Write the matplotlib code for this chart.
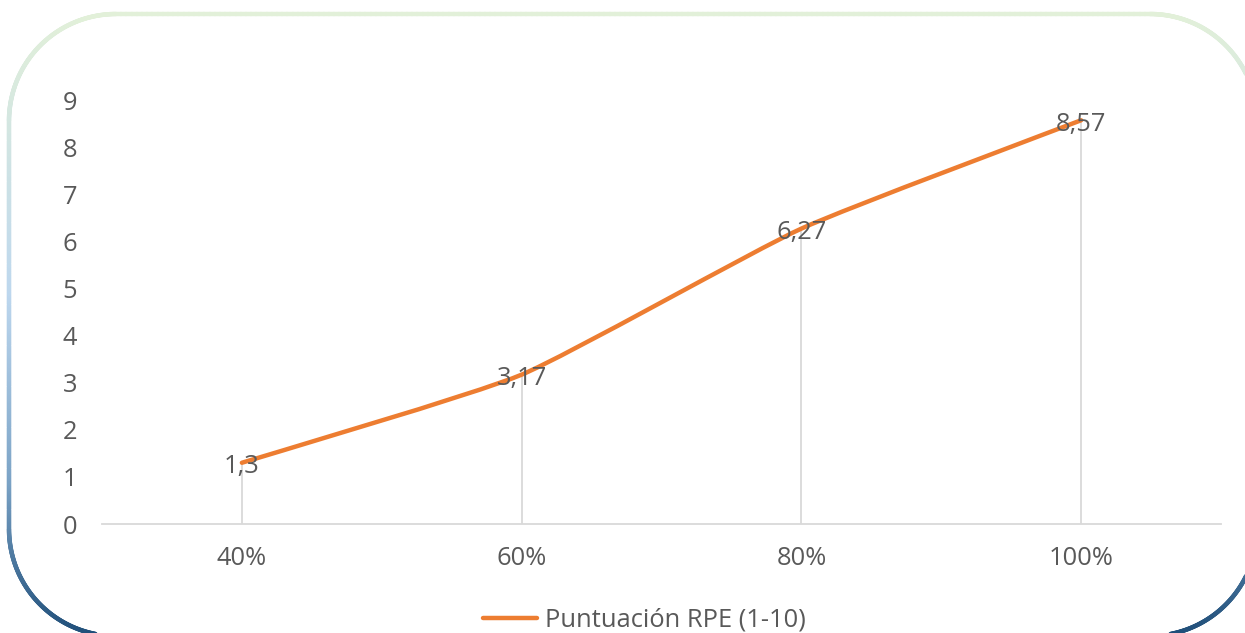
import numpy as np
import matplotlib
matplotlib.use("Agg")
import matplotlib.pyplot as plt
from matplotlib.path import Path
from matplotlib.patches import PathPatch
from matplotlib.collections import LineCollection
from matplotlib.lines import Line2D
from matplotlib.colors import LinearSegmentedColormap

plt.rcParams['font.family'] = ['Open Sans', 'DejaVu Sans']

# Data
categories = ["40%", "60%", "80%", "100%"]
rpe_scores = [1.3, 3.17, 6.27, 8.57]
value_labels = ["1,3", "3,17", "6,27", "8,57"]
y_ticks = [0, 1, 2, 3, 4, 5, 6, 7, 8, 9]
series_name = "Puntuación RPE (1-10)"

W, H = 1245, 633
fig = plt.figure(figsize=(W / 100, H / 100), dpi=100)
fig.patch.set_facecolor("white")

# Rounded frame with a vertical colour gradient
frame_ax = fig.add_axes([0, 0, 1, 1], zorder=0)
frame_ax.set_xlim(0, W)
frame_ax.set_ylim(H, 0)
frame_ax.axis("off")

x0, y0, x1, y1, r = 9, 14, 1257, 636, 107


def rounded_rect_points(x0, y0, x1, y1, r, n=200):
    pts = []
    def arc(cx, cy, a0, a1):
        t = np.linspace(np.radians(a0), np.radians(a1), n)
        return np.column_stack([cx + r * np.cos(t), cy + r * np.sin(t)])
    pts.append(np.column_stack([np.linspace(x0 + r, x1 - r, n), np.full(n, y0)]))
    pts.append(arc(x1 - r, y0 + r, -90, 0))
    pts.append(np.column_stack([np.full(n, x1), np.linspace(y0 + r, y1 - r, n)]))
    pts.append(arc(x1 - r, y1 - r, 0, 90))
    pts.append(np.column_stack([np.linspace(x1 - r, x0 + r, n), np.full(n, y1)]))
    pts.append(arc(x0 + r, y1 - r, 90, 180))
    pts.append(np.column_stack([np.full(n, x0), np.linspace(y1 - r, y0 + r, n)]))
    pts.append(arc(x0 + r, y0 + r, 180, 270))
    return np.vstack(pts)


pts = rounded_rect_points(x0, y0, x1, y1, r)
segs = np.stack([pts[:-1], pts[1:]], axis=1)
frame_cmap = LinearSegmentedColormap.from_list(
    "frame", [(0.0, "#e2f0d9"), (0.45, "#bdd7ee"), (0.75, "#7ba3c6"), (1.0, "#1f4e79")])
ymid = (segs[:, 0, 1] + segs[:, 1, 1]) / 2
colors = frame_cmap((ymid - y0) / (y1 - y0))
frame_ax.add_collection(LineCollection(segs, colors=colors, linewidths=3.2,
                                       capstyle="round"))

# Main chart
ax = fig.add_axes([102 / W, (H - 524) / H, (1221 - 102) / W, (524 - 100) / H], zorder=1)
ax.patch.set_alpha(0)
x = np.arange(len(categories))
ax.set_xlim(-0.5, len(categories) - 0.5)
ax.set_ylim(0, 9)

text_color = "#595959"
fs = 18.4

# Drop lines
ax.vlines(x, 0, rpe_scores, colors="#d9d9d9", linewidth=1.3, zorder=1)

# Lightly smoothed line through the points (Bezier segments)
tension = 1 / 12
px = np.array(x, dtype=float)
py = np.array(rpe_scores, dtype=float)
verts = [(px[0], py[0])]
codes = [Path.MOVETO]
n = len(px)
for i in range(n - 1):
    p0 = (px[max(i - 1, 0)], py[max(i - 1, 0)])
    p1 = (px[i], py[i])
    p2 = (px[i + 1], py[i + 1])
    p3 = (px[min(i + 2, n - 1)], py[min(i + 2, n - 1)])
    c1 = (p1[0] + (p2[0] - p0[0]) * tension, p1[1] + (p2[1] - p0[1]) * tension)
    c2 = (p2[0] - (p3[0] - p1[0]) * tension, p2[1] - (p3[1] - p1[1]) * tension)
    verts += [c1, c2, p2]
    codes += [Path.CURVE4] * 3
line_color = "#ed7d31"
ax.add_patch(PathPatch(Path(verts, codes), facecolor="none", edgecolor=line_color,
                       linewidth=3.2, capstyle="round", zorder=2))

# Value labels centred on each point
for xi, yi, lab in zip(x, rpe_scores, value_labels):
    ax.annotate(lab, (xi, yi), xytext=(0, -3), textcoords="offset points",
                ha="center", va="center", fontsize=fs, color=text_color, zorder=3)

# Axes styling
for s in ["top", "right", "left"]:
    ax.spines[s].set_visible(False)
ax.spines["bottom"].set_color("#d9d9d9")
ax.spines["bottom"].set_linewidth(1.3)
ax.set_xticks(x)
ax.set_xticklabels(categories)
ax.set_yticks(y_ticks)
ax.tick_params(axis="both", length=0, labelsize=fs, labelcolor=text_color)
ax.tick_params(axis="x", pad=16)
ax.tick_params(axis="y", pad=18)

# Legend
handle = Line2D([0], [0], color=line_color, linewidth=3.2, solid_capstyle="round")
fig.legend([handle], [series_name], loc="center", bbox_to_anchor=(644.5 / W, (H - 620) / H),
           frameon=False, fontsize=fs, labelcolor=text_color, handlelength=2.1,
           handletextpad=0.3, borderaxespad=0)

fig.savefig("out.png", dpi=100, facecolor="white")
